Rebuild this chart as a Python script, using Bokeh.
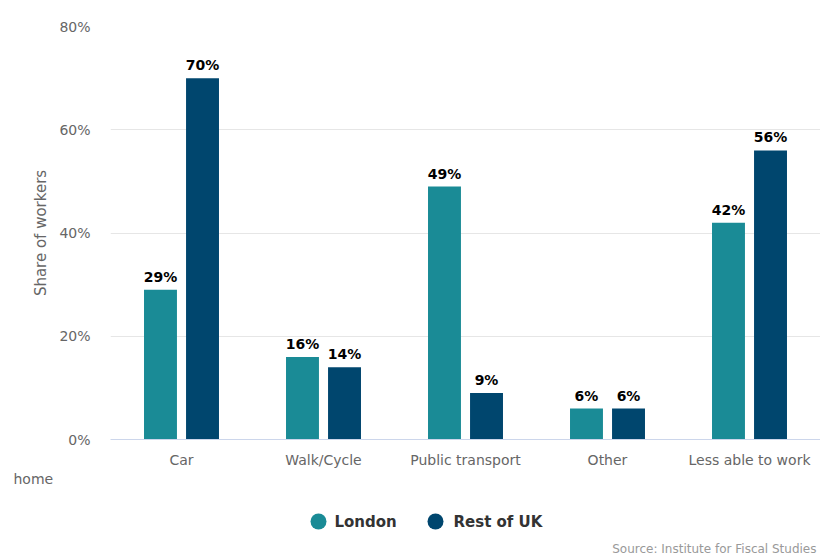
from bokeh.plotting import figure
from bokeh.layouts import column
from bokeh.models import ColumnDataSource, FactorRange, FixedTicker, CustomJSTickFormatter
from bokeh.transform import dodge
from bokeh.core.properties import value
from bokeh.embed import file_html
from bokeh.resources import INLINE

categories = ["Car", "Walk/Cycle", "Public transport", "Other", "Less able to work"]
london = [29, 16, 49, 6, 42]
rest_of_uk = [70, 14, 9, 6, 56]
y_ticks = [0, 20, 40, 60, 80]
series_names = ["London", "Rest of UK"]

LONDON_C = "#1a8b96"
REST_C = "#00466e"
FONT = "DejaVu Sans"

src = ColumnDataSource(dict(
    cat=categories,
    london=london,
    rest=rest_of_uk,
    london_lbl=[f"{v}%" for v in london],
    rest_lbl=[f"{v}%" for v in rest_of_uk],
))

p = figure(width=820, height=470, x_range=FactorRange(*categories, range_padding=0),
           y_range=(0, 80), output_backend="svg", toolbar_location=None,
           min_border_left=110, min_border_right=0, min_border_top=26, min_border_bottom=31)
p.frame_align = False

p.background_fill_color = "#ffffff"
p.border_fill_color = "#ffffff"
p.outline_line_color = None

off = 0.148
bw = 0.232
p.vbar(x=dodge("cat", -off, range=p.x_range), top="london", width=bw, bottom=0,
       source=src, fill_color=LONDON_C, line_color=None)
p.vbar(x=dodge("cat", off, range=p.x_range), top="rest", width=bw, bottom=0,
       source=src, fill_color=REST_C, line_color=None)

for col, lbl, o in (("london", "london_lbl", -off), ("rest", "rest_lbl", off)):
    p.text(x=dodge("cat", o, range=p.x_range), y=col, text=lbl, source=src,
           text_align="center", text_baseline="bottom", y_offset=-5,
           text_font=value(FONT), text_font_size="14px", text_font_style="bold",
           text_color="#000000")

# axes
p.yaxis.ticker = FixedTicker(ticks=y_ticks)
p.yaxis.formatter = CustomJSTickFormatter(code="return tick.toFixed(0) + '%';")
p.yaxis.axis_line_color = None
p.yaxis.major_tick_line_color = None
p.yaxis.major_tick_out = 0
p.yaxis.minor_tick_line_color = None
p.yaxis.major_label_standoff = 20
p.yaxis.major_label_text_font = FONT
p.yaxis.major_label_text_font_size = "14px"
p.yaxis.major_label_text_color = "#666666"
p.yaxis.axis_label = "Share of workers"
p.yaxis.axis_label_text_font = FONT
p.yaxis.axis_label_text_font_size = "15px"
p.yaxis.axis_label_text_font_style = "normal"
p.yaxis.axis_label_text_color = "#666666"
p.yaxis.axis_label_standoff = 6

p.xaxis.axis_line_color = "#ccd6eb"
p.xaxis.axis_line_width = 1
p.xaxis.major_tick_line_color = None
p.xaxis.major_tick_out = 0
p.xaxis.minor_tick_line_color = None
p.xaxis.major_label_standoff = 12
p.xaxis.major_label_text_font = FONT
p.xaxis.major_label_text_font_size = "14px"
p.xaxis.major_label_text_color = "#666666"

p.xgrid.grid_line_color = None
p.ygrid.grid_line_color = "#e6e6e6"
p.ygrid.ticker = FixedTicker(ticks=y_ticks)

# footer: "home" note, legend, source (pixel-mapped figure)
f = figure(width=820, height=84, x_range=(0, 820), y_range=(0, 84),
           output_backend="svg", toolbar_location=None,
           x_axis_location=None, y_axis_location=None,
           min_border=0, min_border_left=0, min_border_right=0,
           min_border_top=0, min_border_bottom=0)
f.frame_align = False
f.grid.visible = False
f.outline_line_color = None
f.background_fill_color = "#ffffff"
f.border_fill_color = "#ffffff"

f.text(x=[13], y=[76], text=["home"], text_align="left", text_baseline="middle",
       text_font=value(FONT), text_font_size="14px", text_color="#666666")

leg = ColumnDataSource(dict(x=[318, 435], tx=[334, 453], y=[33, 33],
                            name=series_names, color=[LONDON_C, REST_C]))
f.scatter(x="x", y="y", source=leg, marker="circle", size=16,
          fill_color="color", line_color=None)
f.text(x="tx", y="y", text="name", source=leg, text_align="left",
       text_baseline="middle", text_font=value(FONT), text_font_size="15px",
       text_font_style="bold", text_color="#333333")

f.text(x=[816], y=[6], text=["Source: Institute for Fiscal Studies"],
       text_align="right", text_baseline="middle", text_font=value(FONT),
       text_font_size="12px", text_color="#999999")

layout = column(p, f, spacing=0)
open("out.html", "w").write(file_html(layout, INLINE))
